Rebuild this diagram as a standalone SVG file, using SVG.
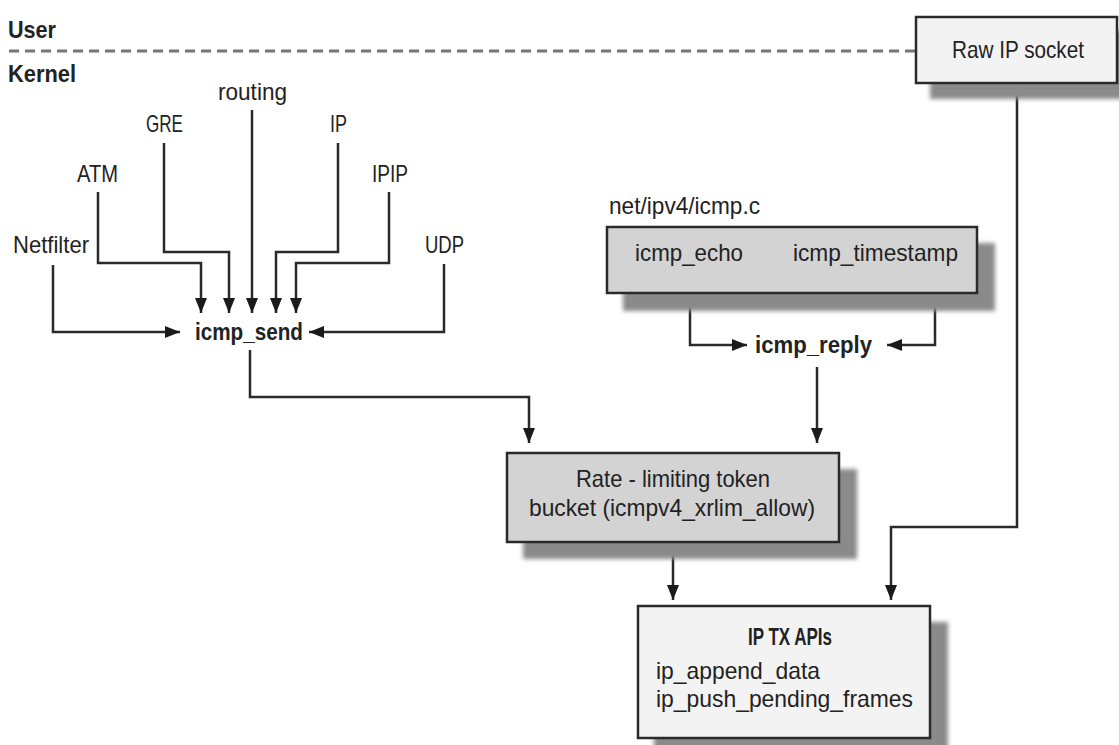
<svg xmlns="http://www.w3.org/2000/svg" width="1119" height="745" viewBox="0 0 1119 745">
<style>
text{font-family:"Liberation Sans",Arial,sans-serif;font-size:24px;fill:#222}
.b{font-weight:bold}
.box{stroke:#2a2a2a;stroke-width:2.5}
.light{fill:#f3f3f3}
.gray{fill:#d3d3d3}
.shadow{fill:#8a8a8a;filter:url(#blur)}
.conn{fill:none;stroke:#2a2a2a;stroke-width:2.5}
.arr{marker-end:url(#ah)}
</style>
<defs>
<filter id="blur" x="-10%" y="-10%" width="120%" height="130%"><feGaussianBlur stdDeviation="2"/></filter>
<marker id="ah" markerUnits="userSpaceOnUse" markerWidth="15" markerHeight="12" refX="15" refY="6" orient="auto"><path d="M0,0 L15,6 L0,12 z" fill="#1a1a1a"/></marker>
</defs>
<rect width="1119" height="745" fill="#ffffff"/>

<g id="boundary">
<line x1="9" y1="51" x2="916" y2="51" stroke="#777" stroke-width="3" stroke-dasharray="10 6"/>
<text class="b" x="8" y="38" textLength="48" lengthAdjust="spacingAndGlyphs">User</text>
<text class="b" x="8" y="82" textLength="68" lengthAdjust="spacingAndGlyphs">Kernel</text>
</g>

<g id="connectors">
<path class="conn arr" d="M53,265 V332 H180"/>
<path class="conn arr" d="M98,192 V263 H201 V313"/>
<path class="conn arr" d="M164,143 V252 H229 V313"/>
<path class="conn arr" d="M252,110 V313"/>
<path class="conn arr" d="M338,143 V252 H276 V313"/>
<path class="conn arr" d="M389,192 V263 H296 V313"/>
<path class="conn arr" d="M444,264 V332 H309"/>
<path class="conn arr" d="M250,350 V397 H529 V443"/>
<path class="conn arr" d="M690,282 V345 H747"/>
<path class="conn arr" d="M935,282 V345 H887"/>
<path class="conn arr" d="M817,367 V443"/>
<path class="conn arr" d="M673,542 V600"/>
<path class="conn arr" d="M1017,83 V527 H891 V600"/>
</g>

<g id="netfilter"><text x="13" y="253" textLength="76" lengthAdjust="spacingAndGlyphs">Netfilter</text></g>
<g id="atm"><text x="77" y="182" textLength="41" lengthAdjust="spacingAndGlyphs">ATM</text></g>
<g id="gre"><text x="146" y="132" textLength="37" lengthAdjust="spacingAndGlyphs">GRE</text></g>
<g id="routing"><text x="218" y="100" textLength="69" lengthAdjust="spacingAndGlyphs">routing</text></g>
<g id="ip"><text x="330" y="132" textLength="17" lengthAdjust="spacingAndGlyphs">IP</text></g>
<g id="ipip"><text x="372" y="182" textLength="36" lengthAdjust="spacingAndGlyphs">IPIP</text></g>
<g id="udp"><text x="425" y="253" textLength="39" lengthAdjust="spacingAndGlyphs">UDP</text></g>
<g id="icmp_send"><text class="b" x="195" y="340" textLength="108" lengthAdjust="spacingAndGlyphs">icmp_send</text></g>

<g id="raw_ip_socket">
<rect class="shadow" x="930" y="31" width="201" height="68"/>
<rect class="box light" x="916" y="17" width="201" height="66"/>
<text x="952" y="58" textLength="132" lengthAdjust="spacingAndGlyphs">Raw IP socket</text>
</g>

<g id="icmp_c">
<text x="609" y="214" textLength="151" lengthAdjust="spacingAndGlyphs">net/ipv4/icmp.c</text>
<rect class="shadow" x="623" y="243" width="372" height="68"/>
<rect class="box gray" x="607" y="227" width="370" height="66"/>
<text x="635" y="261" textLength="108" lengthAdjust="spacingAndGlyphs">icmp_echo</text>
<text x="793" y="261" textLength="165" lengthAdjust="spacingAndGlyphs">icmp_timestamp</text>
</g>

<g id="icmp_reply"><text class="b" x="755" y="353" textLength="117" lengthAdjust="spacingAndGlyphs">icmp_reply</text></g>

<g id="rate_limit">
<rect class="shadow" x="523" y="469" width="334" height="90"/>
<rect class="box gray" x="507" y="453" width="332" height="89"/>
<text x="673" y="487" text-anchor="middle" textLength="194" lengthAdjust="spacingAndGlyphs">Rate - limiting token</text>
<text x="672" y="516" text-anchor="middle" textLength="286" lengthAdjust="spacingAndGlyphs">bucket (icmpv4_xrlim_allow)</text>
</g>

<g id="ip_tx_apis">
<rect class="shadow" x="654" y="622" width="294" height="134"/>
<rect class="box light" x="638" y="606" width="292" height="132"/>
<text class="b" x="790" y="645" text-anchor="middle" textLength="84" lengthAdjust="spacingAndGlyphs">IP TX APIs</text>
<text x="656" y="679" textLength="164" lengthAdjust="spacingAndGlyphs">ip_append_data</text>
<text x="656" y="707" textLength="257" lengthAdjust="spacingAndGlyphs">ip_push_pending_frames</text>
</g>
</svg>
